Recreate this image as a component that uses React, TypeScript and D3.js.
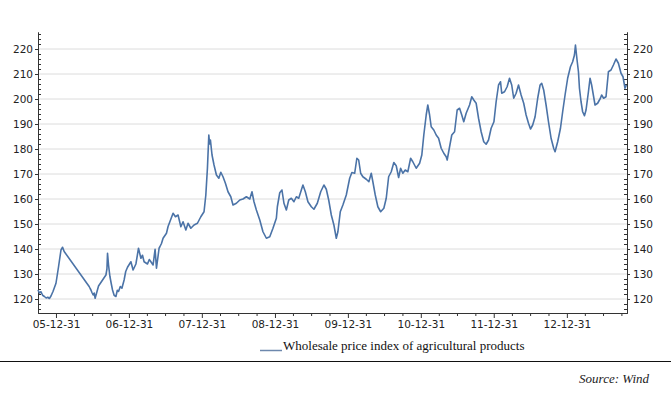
import * as d3 from "d3";
import { useEffect, useRef } from "react";

type Pt = [string, number];

// wholesale price index
const s2005: Pt[] = [
  ["2005-10-02", 123.6], ["2005-10-09", 122.4], ["2005-10-17", 122.9], ["2005-10-25", 121.5],
  ["2005-11-03", 121], ["2005-11-12", 120.4], ["2005-11-20", 120.7], ["2005-11-28", 120.2],
  ["2005-12-06", 121.2], ["2005-12-16", 123], ["2005-12-31", 126.3],
];
const s2006: Pt[] = [
  ["2006-01-13", 133], ["2006-01-25", 139.6], ["2006-02-02", 140.7], ["2006-02-10", 139],
  ["2006-06-15", 125], ["2006-06-20", 124.2], ["2006-06-24", 123.6], ["2006-06-29", 122.6],
  ["2006-07-05", 121.6], ["2006-07-10", 122.4], ["2006-07-15", 120.3], ["2006-07-24", 122.9],
  ["2006-08-01", 125.2], ["2006-09-07", 129.6], ["2006-09-12", 132], ["2006-09-15", 138.3],
  ["2006-09-20", 133.6], ["2006-09-27", 129], ["2006-10-04", 126], ["2006-10-10", 123.6],
  ["2006-10-18", 121.5], ["2006-10-27", 121], ["2006-11-03", 123.5], ["2006-11-09", 123],
  ["2006-11-18", 125], ["2006-11-26", 124.3], ["2006-12-07", 127.6], ["2006-12-15", 131],
  ["2006-12-24", 132.7],
];
const s2007: Pt[] = [
  ["2007-01-10", 134.9], ["2007-01-21", 131.6], ["2007-02-04", 134], ["2007-02-17", 140.3],
  ["2007-03-01", 136.3], ["2007-03-09", 137.5], ["2007-03-17", 134.9], ["2007-04-03", 134],
  ["2007-04-12", 135.8], ["2007-04-20", 134.9], ["2007-05-01", 133.6], ["2007-05-11", 139.9],
  ["2007-05-18", 132.3], ["2007-05-31", 140.3], ["2007-06-04", 140.9], ["2007-06-12", 142.2],
  ["2007-06-20", 144.3], ["2007-07-07", 146.3], ["2007-07-15", 149], ["2007-07-24", 150.9],
  ["2007-08-09", 154.3], ["2007-08-21", 152.9], ["2007-09-03", 153.6], ["2007-09-17", 148.9],
  ["2007-09-28", 150.9], ["2007-10-12", 147.6], ["2007-10-23", 150.3], ["2007-11-06", 148.3],
  ["2007-11-22", 149.6], ["2007-12-09", 150.3], ["2007-12-26", 152.9],
];
const s2008: Pt[] = [
  ["2008-01-11", 154.9], ["2008-01-20", 161.6], ["2008-01-28", 172.3], ["2008-02-04", 185.6],
  ["2008-02-08", 182], ["2008-02-12", 183.6], ["2008-02-20", 177.6], ["2008-03-01", 173.6],
  ["2008-03-13", 169.6], ["2008-03-25", 168.3], ["2008-04-04", 170.7], ["2008-04-15", 168.9],
  ["2008-04-27", 166.3], ["2008-05-10", 162.9], ["2008-05-24", 160.9], ["2008-06-04", 157.6],
  ["2008-06-21", 158.3], ["2008-07-08", 159.6], ["2008-07-24", 160], ["2008-08-10", 160.9],
  ["2008-08-27", 160], ["2008-09-07", 162.9], ["2008-09-17", 158.9], ["2008-09-29", 155.6],
  ["2008-10-16", 151.6], ["2008-11-01", 146.9], ["2008-11-18", 144.3], ["2008-12-05", 144.9],
  ["2008-12-21", 148.3],
];
const s2009: Pt[] = [
  ["2009-01-01", 150.9], ["2009-01-07", 152.3], ["2009-01-12", 156.9], ["2009-01-24", 162.5],
  ["2009-02-04", 163.6], ["2009-02-14", 158.3], ["2009-02-26", 155.6], ["2009-03-10", 159.6],
  ["2009-03-23", 160.3], ["2009-04-05", 158.9], ["2009-04-17", 160.9], ["2009-04-29", 160.3],
  ["2009-05-12", 163.6], ["2009-05-20", 165.6], ["2009-06-01", 162.9], ["2009-06-14", 158.9],
  ["2009-07-01", 156.9], ["2009-07-14", 155.9], ["2009-07-31", 158.3], ["2009-08-17", 162.9],
  ["2009-09-02", 165.6], ["2009-09-14", 163.9], ["2009-09-26", 159.6], ["2009-10-09", 153.6],
  ["2009-10-22", 149.6], ["2009-11-03", 144.3], ["2009-11-11", 146.9], ["2009-11-23", 154.9],
  ["2009-12-06", 157.6], ["2009-12-23", 161.6],
];
const s2010: Pt[] = [
  ["2010-01-09", 168.3], ["2010-01-20", 170.6], ["2010-02-03", 170.3], ["2010-02-14", 176.3],
  ["2010-02-23", 175.6], ["2010-03-05", 170.3], ["2010-03-16", 168.9], ["2010-04-02", 167.9],
  ["2010-04-15", 166.9], ["2010-04-27", 170.3], ["2010-05-05", 166.9], ["2010-05-17", 161.6],
  ["2010-05-30", 156.9], ["2010-06-13", 154.9], ["2010-06-29", 156.3], ["2010-07-11", 160.3],
  ["2010-07-23", 168.9], ["2010-08-05", 170.9], ["2010-08-18", 174.6], ["2010-08-30", 173.3],
  ["2010-09-11", 168.6], ["2010-09-21", 172.3], ["2010-10-02", 170.3], ["2010-10-14", 171.6],
  ["2010-10-27", 170.9], ["2010-11-10", 176.3], ["2010-11-21", 174.9], ["2010-12-08", 172.3],
  ["2010-12-25", 174.3],
];
const s2011: Pt[] = [
  ["2011-01-05", 177.6], ["2011-01-15", 185.6], ["2011-01-27", 193.6], ["2011-02-04", 197.6],
  ["2011-02-13", 193.6], ["2011-02-21", 188.9], ["2011-03-06", 187.6], ["2011-03-18", 185.6],
  ["2011-03-30", 184.3], ["2011-04-12", 180.3], ["2011-04-25", 178.3], ["2011-05-07", 176.9],
  ["2011-05-12", 175.6], ["2011-05-24", 180.9], ["2011-06-04", 185.6], ["2011-06-18", 186.9],
  ["2011-07-01", 195.6], ["2011-07-13", 196.3], ["2011-07-24", 193.6], ["2011-08-03", 190.9],
  ["2011-08-15", 194.3], ["2011-09-01", 197.6], ["2011-09-12", 200.9], ["2011-09-22", 199.6],
  ["2011-10-04", 198.3], ["2011-10-16", 192.3], ["2011-10-29", 186.9], ["2011-11-11", 182.9],
  ["2011-11-23", 181.9], ["2011-12-05", 183.6], ["2011-12-18", 188.3],
];
const s2012: Pt[] = [
  ["2012-01-01", 190.9], ["2012-01-12", 198.9], ["2012-01-24", 205.6], ["2012-02-03", 206.9],
  ["2012-02-09", 202.3], ["2012-02-23", 202.9], ["2012-03-07", 204.9], ["2012-03-19", 208.3],
  ["2012-03-30", 205.6], ["2012-04-09", 200.3], ["2012-04-21", 202.3], ["2012-05-03", 205.6],
  ["2012-05-16", 201.6], ["2012-05-29", 198.3], ["2012-06-10", 193.6], ["2012-06-22", 190.3],
  ["2012-07-02", 188], ["2012-07-13", 189.6], ["2012-07-25", 192.9], ["2012-08-07", 200.3],
  ["2012-08-19", 205.6], ["2012-08-27", 206.3], ["2012-09-06", 203.6], ["2012-09-18", 197.6],
  ["2012-09-30", 190.9], ["2012-10-13", 184.3], ["2012-10-26", 180.3], ["2012-11-02", 178.9],
  ["2012-11-15", 182.9], ["2012-11-29", 188.3], ["2012-12-10", 194.9], ["2012-12-22", 201.6],
];
const s2013: Pt[] = [
  ["2013-01-04", 208.3], ["2013-01-18", 212.9], ["2013-01-29", 214.9], ["2013-02-07", 217.6],
  ["2013-02-12", 221.6], ["2013-02-20", 215.6], ["2013-02-27", 210.9], ["2013-03-04", 204.3],
  ["2013-03-12", 198.9], ["2013-03-20", 194.9], ["2013-03-29", 193.3], ["2013-04-06", 195.6],
  ["2013-04-18", 202.9], ["2013-04-26", 208.3], ["2013-05-04", 205.6], ["2013-05-14", 200.9],
  ["2013-05-21", 197.6], ["2013-06-03", 198.3], ["2013-06-17", 200.3], ["2013-06-23", 201.6],
  ["2013-07-03", 200.3], ["2013-07-15", 200.9], ["2013-07-27", 210.9], ["2013-08-09", 211.6],
  ["2013-08-21", 213.6], ["2013-09-03", 216], ["2013-09-15", 214.3], ["2013-09-28", 210.3],
  ["2013-10-08", 208.9], ["2013-10-18", 204.3], ["2013-10-25", 205.6],
];

const yTicks = [120, 130, 140, 150, 160, 170, 180, 190, 200, 210, 220];
const yearEnds = [
  "2005-12-31", "2006-12-31", "2007-12-31", "2008-12-31",
  "2009-12-31", "2010-12-31", "2011-12-31", "2012-12-31",
];
const xDomain = ["2005-10-02", "2013-10-28"];
const yDomain = [114.4, 226.8];
const legendLabel = "Wholesale price index of agricultural products";
const sourceLabel = "Source: Wind";

export default function App() {
  const svgRef = useRef<SVGSVGElement | null>(null);

  useEffect(() => {
    if (!svgRef.current) return;
    const svg = d3.select(svgRef.current);
    svg.selectAll("*").remove();

    const parse = d3.timeParse("%Y-%m-%d");
    const series = [...s2005, ...s2006, ...s2007, ...s2008, ...s2009, ...s2010, ...s2011, ...s2012, ...s2013]
      .map(([d, v]) => ({ date: parse(d)!, value: v }));

    const left = 38, right = 627, top = 32, bottom = 313;

    const x = d3.scaleTime()
      .domain(xDomain.map(d => parse(d)!))
      .range([left, right]);
    const y = d3.scaleLinear().domain(yDomain).range([bottom, top]);

    // gridlines
    svg.append("g")
      .selectAll("line")
      .data(yTicks)
      .enter()
      .append("line")
      .attr("x1", left)
      .attr("x2", right)
      .attr("y1", d => y(d))
      .attr("y2", d => y(d))
      .attr("stroke", "#dcdcdc")
      .attr("stroke-width", 1);

    const axisColor = "#333";
    const styleAxis = (g: any) => {
      g.attr("font-family", "DejaVu Sans").attr("font-size", 10.5);
      g.selectAll("path, line").attr("stroke", axisColor);
      g.selectAll("text").attr("fill", "#222");
    };

    const minorY = d3.range(116, 227, 2).filter(v => v % 10 !== 0);

    // left axis
    svg.append("g")
      .attr("transform", `translate(${left},0)`)
      .call(d3.axisLeft(y).tickValues(yTicks).tickSize(3).tickSizeOuter(0).tickPadding(2))
      .call(styleAxis);
    svg.append("g")
      .attr("transform", `translate(${left},0)`)
      .call(d3.axisRight(y).tickValues(minorY).tickSize(3).tickSizeOuter(0).tickFormat(() => ""))
      .call(styleAxis);

    // right axis
    svg.append("g")
      .attr("transform", `translate(${right},0)`)
      .call(d3.axisRight(y).tickValues(yTicks).tickSize(3).tickSizeOuter(0).tickPadding(3))
      .call(styleAxis);
    svg.append("g")
      .attr("transform", `translate(${right},0)`)
      .call(d3.axisLeft(y).tickValues(minorY).tickSize(3).tickSizeOuter(0).tickFormat(() => ""))
      .call(styleAxis);

    // bottom axis, quarterly minor ticks
    const quarterEnds = d3.timeMonths(parse("2005-10-01")!, parse("2013-10-02")!, 3)
      .map(d => d3.timeDay.offset(d, -1))
      .filter(d => d.getMonth() !== 11 && d >= x.domain()[0]);
    svg.append("g")
      .attr("transform", `translate(0,${bottom})`)
      .call(d3.axisBottom(x).tickValues(quarterEnds).tickSize(3).tickSizeOuter(0).tickFormat(() => ""))
      .call(styleAxis);
    svg.append("g")
      .attr("transform", `translate(0,${bottom})`)
      .call(d3.axisBottom(x).tickValues(yearEnds.map(d => parse(d)!)).tickSize(5).tickSizeOuter(0).tickPadding(3)
        .tickFormat(d => d3.timeFormat("%y-%m-%d")(d as Date)))
      .call(styleAxis);

    // the index line
    const line = d3.line<{ date: Date; value: number }>()
      .x(d => x(d.date))
      .y(d => y(d.value));
    svg.append("path")
      .datum(series)
      .attr("fill", "none")
      .attr("stroke", "#4b73a7")
      .attr("stroke-width", 1.6)
      .attr("stroke-linejoin", "round")
      .attr("d", line);

    // legend
    svg.append("line")
      .attr("x1", 260).attr("x2", 282)
      .attr("y1", 350.5).attr("y2", 350.5)
      .attr("stroke", "#6d88ad")
      .attr("stroke-width", 1.5);
    svg.append("text")
      .attr("x", 283)
      .attr("y", 350)
      .style("font-family", "'Liberation Serif', 'Times New Roman', serif")
      .style("font-size", "13px")
      .style("fill", "#111")
      .text(legendLabel);

    // rule and source
    svg.append("line")
      .attr("x1", 0).attr("x2", 671)
      .attr("y1", 361.5).attr("y2", 361.5)
      .attr("stroke", "#111")
      .attr("stroke-width", 1.2);
    svg.append("text")
      .attr("x", 649)
      .attr("y", 383)
      .attr("text-anchor", "end")
      .style("font-family", "'Liberation Serif', 'Times New Roman', serif")
      .style("font-style", "italic")
      .style("font-size", "13px")
      .style("fill", "#222")
      .text(sourceLabel);
  }, []);

  return (
    <div style={{ position: "absolute", left: 0, top: 0, background: "white" }}>
      <svg ref={svgRef} width={671} height={399} />
    </div>
  );
}
